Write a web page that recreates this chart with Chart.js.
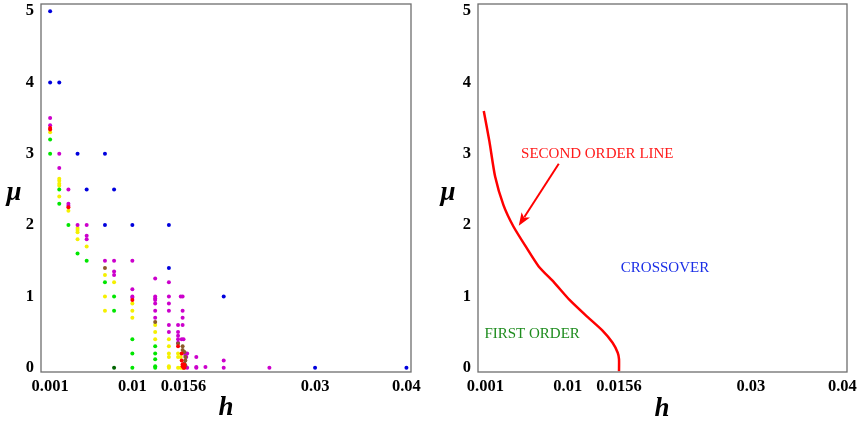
<!DOCTYPE html>
<html>
<head>
<meta charset="utf-8">
<script src="https://cdn.jsdelivr.net/npm/chart.js@4.4.0/dist/chart.umd.min.js"></script>
<style>
  html, body { margin: 0; padding: 0; background: #fff; }
  #wrap { position: relative; width: 859px; height: 424px; }
  canvas { position: absolute; top: 0; }
</style>
</head>
<body>
<div id="wrap">
  <canvas id="leftChart" width="430" height="424" style="left:0;width:430px;height:424px"></canvas>
  <canvas id="rightChart" width="429" height="424" style="left:430px;width:429px;height:424px"></canvas>
</div>
<script>
// tick values and labels
const xTickVals = [0.001, 0.01, 0.0156, 0.03, 0.04];
const xTickLabels = ['0.001', '0.01', '0.0156', '0.03', '0.04'];
const yTickVals = [0, 1, 2, 3, 4, 5];

// left panel: simulation points [h, mu] by colour
const bluePts = [[0.001, 5], [0.001, 4], [0.002, 4], [0.004, 3], [0.007, 3], [0.005, 2.5], [0.008, 2.5],
  [0.007, 2], [0.01, 2], [0.014, 2], [0.014, 1.4], [0.02, 1], [0.03, 0], [0.04, 0]];
const magentaPts = [[0.001, 3.5], [0.001, 3.4], [0.002, 3], [0.002, 2.8], [0.003, 2.5], [0.003, 2.3], [0.003, 2.27],
  [0.004, 2], [0.005, 2], [0.005, 1.85], [0.005, 1.8], [0.007, 1.5], [0.008, 1.5], [0.008, 1.35], [0.008, 1.3],
  [0.01, 1.5], [0.01, 1.1], [0.01, 1.0], [0.01, 0.98], [0.0125, 1.25], [0.0125, 1.0], [0.0125, 0.97], [0.0125, 0.95],
  [0.0125, 0.9], [0.0125, 0.8], [0.0125, 0.7], [0.014, 1.2], [0.014, 1.0], [0.014, 0.9], [0.014, 0.8], [0.014, 0.6],
  [0.014, 0.5], [0.015, 0.6], [0.015, 0.5], [0.015, 0.45], [0.015, 0.4], [0.015, 0.35], [0.0153, 1.0], [0.0155, 1.0],
  [0.0155, 0.8], [0.0155, 0.7], [0.0155, 0.6], [0.0154, 0.4], [0.0156, 0.4], [0.0158, 0.2], [0.016, 0.2],
  [0.0158, 0.18], [0.0159, 0.15], [0.016, 0.0], [0.017, 0.15], [0.017, 0.0], [0.017, 0.01], [0.018, 0.01],
  [0.02, 0.1], [0.02, 0.0], [0.025, 0.0]];
const yellowPts = [[0.001, 3.3], [0.002, 2.65], [0.002, 2.62], [0.002, 2.58], [0.002, 2.55], [0.002, 2.4],
  [0.003, 2.2], [0.004, 1.96], [0.004, 1.93], [0.004, 1.9], [0.004, 1.8], [0.005, 1.7], [0.007, 1.3], [0.007, 1.0],
  [0.007, 0.8], [0.008, 1.2], [0.01, 0.9], [0.01, 0.8], [0.01, 0.7], [0.0125, 0.6], [0.0125, 0.5], [0.0125, 0.4],
  [0.014, 0.4], [0.014, 0.3], [0.014, 0.2], [0.014, 0.15], [0.014, 0.0], [0.014, 0.02], [0.015, 0.2],
  [0.015, 0.15], [0.015, 0.0], [0.0153, 0.0], [0.0153, 0.15], [0.0155, 0.0]];
const greenPts = [[0.001, 3.2], [0.001, 3.0], [0.002, 2.5], [0.002, 2.3], [0.003, 2.0], [0.004, 1.6], [0.005, 1.5],
  [0.007, 1.2], [0.008, 1.0], [0.008, 0.8], [0.01, 0.4], [0.01, 0.2], [0.01, 0.0], [0.0125, 0.3], [0.0125, 0.2],
  [0.0125, 0.12], [0.0125, 0.0], [0.0125, 0.02]];
const brownPts = [[0.007, 1.4], [0.0125, 0.64], [0.015, 0.34], [0.0155, 0.3], [0.0155, 0.25], [0.0157, 0.22],
  [0.0158, 0.15], [0.0158, 0.1], [0.0157, 0.06], [0.0158, 0.03]];
const redPts = [[0.001, 3.36], [0.001, 3.34], [0.003, 2.25], [0.01, 0.95], [0.015, 0.3], [0.0154, 0.2],
  [0.0154, 0.1], [0.0155, 0.05], [0.0155, 0.02], [0.0156, 0.0], [0.0157, 0.04], [0.0157, 0.0]];
const darkGreenPts = [[0.008, 0]];

// right panel: second order line
const lineH = [0.00083, 0.00145, 0.00207, 0.00298, 0.00407, 0.00546, 0.00683, 0.00855, 0.0102, 0.012, 0.0138,
  0.0149, 0.01546, 0.0156, 0.0156];
const lineMu = [3.6, 3.17, 2.68, 2.28, 1.98, 1.69, 1.42, 1.19, 0.95, 0.73, 0.52, 0.35, 0.21, 0.12, -0.05];

const tickFont = { family: 'Liberation Serif', size: 16.5, weight: 'bold' };

function toXY(pts) {
  return pts.map(p => ({ x: p[0], y: p[1] }));
}

// draws the frame and the upright axis titles
const framePlugin = {
  id: 'frame',
  afterDraw(chart, args, opts) {
    const ctx = chart.ctx;
    const a = chart.chartArea;
    ctx.save();
    ctx.strokeStyle = '#6e6e6e';
    ctx.lineWidth = 1.3;
    ctx.strokeRect(a.left, a.top, a.right - a.left, a.bottom - a.top);
    ctx.fillStyle = '#000';
    ctx.font = 'italic bold 27px "Liberation Serif"';
    ctx.textAlign = 'center';
    ctx.textBaseline = 'middle';
    ctx.fillText('\u03bc', opts.muX, opts.muY);
    ctx.fillText('h', opts.hX, opts.hY);
    ctx.restore();
  }
};

function scaleOpts(xMin, yWidth) {
  return {
    x: {
      type: 'linear', min: xMin, max: 0.0405,
      grid: { display: false, drawTicks: false },
      border: { display: false },
      afterBuildTicks: axis => { axis.ticks = xTickVals.map(v => ({ value: v })); },
      afterFit: axis => { axis.height = 52; axis.paddingLeft = 0; axis.paddingRight = 0; },
      ticks: {
        autoSkip: false, maxRotation: 0, padding: 5, color: '#000', font: tickFont,
        callback: (v, i) => xTickLabels[i]
      }
    },
    y: {
      type: 'linear', min: -0.06, max: 5.1,
      grid: { display: false, drawTicks: false },
      border: { display: false },
      afterBuildTicks: axis => { axis.ticks = yTickVals.map(v => ({ value: v })); },
      afterFit: axis => { axis.width = yWidth; axis.paddingTop = 0; axis.paddingBottom = 0; },
      ticks: { padding: 7, color: '#000', font: tickFont }
    }
  };
}

function dots(pts, color) {
  return {
    data: toXY(pts),
    backgroundColor: color,
    borderColor: color,
    borderWidth: 0,
    pointRadius: 2,
    pointHoverRadius: 2
  };
}

new Chart(document.getElementById('leftChart'), {
  type: 'scatter',
  data: {
    datasets: [
      dots(redPts, '#ff0000'),
      dots(brownPts, '#8b5a2b'),
      dots(darkGreenPts, '#006400'),
      dots(magentaPts, '#cc00cc'),
      dots(greenPts, '#00e600'),
      dots(yellowPts, '#f5f000'),
      dots(bluePts, '#0000dd')
    ]
  },
  options: {
    responsive: false,
    animation: false,
    layout: { padding: { top: 4, right: 19, left: 0, bottom: 0 } },
    plugins: {
      legend: { display: false },
      tooltip: { enabled: false },
      frame: { muX: 14, muY: 193, hX: 226, hY: 408 }
    },
    scales: scaleOpts(0, 41)
  },
  plugins: [framePlugin]
});

// labels and the arrow of the right panel, placed in data units
const notePlugin = {
  id: 'notes',
  afterDatasetsDraw(chart) {
    const ctx = chart.ctx;
    const xs = chart.scales.x;
    const ys = chart.scales.y;
    ctx.save();
    ctx.font = '15px "Liberation Serif"';
    ctx.textAlign = 'left';
    ctx.textBaseline = 'middle';
    ctx.fillStyle = '#ff1a1a';
    ctx.fillText('SECOND ORDER LINE', xs.getPixelForValue(0.0049), ys.getPixelForValue(2.99));
    ctx.fillStyle = '#1a2ee6';
    ctx.fillText('CROSSOVER', xs.getPixelForValue(0.0158), ys.getPixelForValue(1.4));
    ctx.fillStyle = '#1e8c1e';
    ctx.fillText('FIRST ORDER', xs.getPixelForValue(0.0009), ys.getPixelForValue(0.47));

    // arrow
    const x0 = xs.getPixelForValue(0.00902), y0 = ys.getPixelForValue(2.86);
    const x1 = xs.getPixelForValue(0.00465), y1 = ys.getPixelForValue(1.99);
    const ang = Math.atan2(y1 - y0, x1 - x0);
    const len = 13, wid = 5;
    ctx.strokeStyle = '#ff0000';
    ctx.fillStyle = '#ff0000';
    ctx.lineWidth = 2;
    ctx.beginPath();
    ctx.moveTo(x0, y0);
    ctx.lineTo(x1 - Math.cos(ang) * len * 0.8, y1 - Math.sin(ang) * len * 0.8);
    ctx.stroke();
    const bx = x1 - Math.cos(ang) * len, by = y1 - Math.sin(ang) * len;
    ctx.beginPath();
    ctx.moveTo(x1, y1);
    ctx.lineTo(bx + Math.sin(ang) * wid, by - Math.cos(ang) * wid);
    ctx.lineTo(x1 - Math.cos(ang) * len * 0.75, y1 - Math.sin(ang) * len * 0.75);
    ctx.lineTo(bx - Math.sin(ang) * wid, by + Math.cos(ang) * wid);
    ctx.closePath();
    ctx.fill();
    ctx.restore();
  }
};

new Chart(document.getElementById('rightChart'), {
  type: 'scatter',
  data: {
    datasets: [{
      data: lineH.map((h, i) => ({ x: h, y: lineMu[i] })),
      showLine: true,
      borderColor: '#ff0000',
      borderWidth: 2.5,
      pointRadius: 0,
      pointHoverRadius: 0,
      tension: 0.2
    }]
  },
  options: {
    responsive: false,
    animation: false,
    layout: { padding: { top: 4, right: 12, left: 0, bottom: 0 } },
    plugins: {
      legend: { display: false },
      tooltip: { enabled: false },
      frame: { muX: 18, muY: 193, hX: 232, hY: 409 }
    },
    scales: scaleOpts(0.0002, 48)
  },
  plugins: [framePlugin, notePlugin]
});
</script>
</body>
</html>
